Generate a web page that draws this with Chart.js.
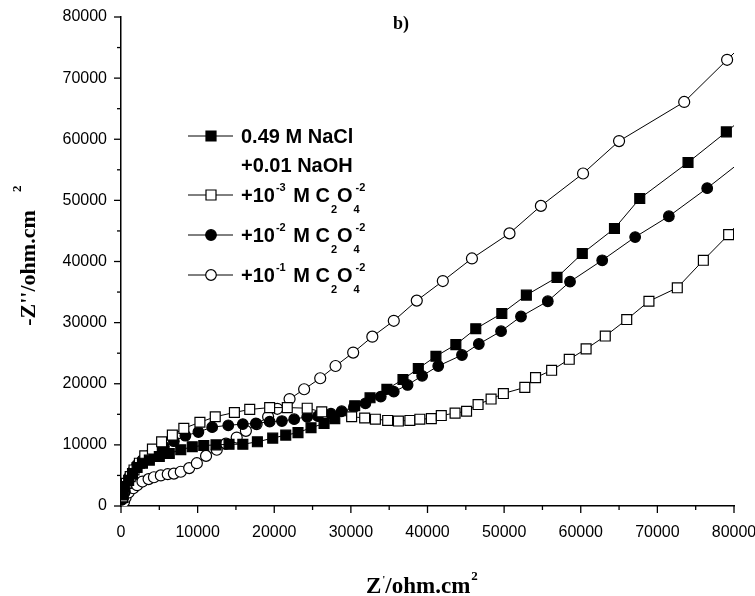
<!DOCTYPE html>
<html lang="en">
<head>
<meta charset="UTF-8">
<title>Nyquist plot b)</title>
<script src="https://cdn.jsdelivr.net/npm/chart.js"></script>
<style>
  html, body { margin: 0; padding: 0; background: #fff; }
  #wrap { width: 755px; height: 596px; }
</style>
</head>
<body>
<div id="wrap"><canvas id="nyquist"></canvas></div>
<script>
// Z' and -Z'' in ohm.cm2 (values in units of 1000)
const naclRe = [0.3, 0.5, 1.0, 1.5, 2.1, 2.8, 3.7, 5.0, 6.3, 7.8, 9.3, 10.8, 12.4, 14.1, 15.9, 17.8, 19.8, 21.5, 23.1, 24.8, 26.5, 27.9, 30.5, 32.5, 34.7, 36.8, 38.8, 41.1, 43.7, 46.3, 49.7, 52.9, 56.9, 60.2, 64.4, 67.7, 74.0, 79.0, 82.0];
const naclIm = [1.8, 3.2, 4.2, 5.3, 6.3, 7.0, 7.5, 8.1, 8.6, 9.2, 9.7, 9.9, 10.0, 10.1, 10.1, 10.5, 11.1, 11.6, 12.0, 12.8, 13.5, 14.3, 16.4, 17.7, 19.1, 20.7, 22.5, 24.5, 26.4, 29.0, 31.5, 34.5, 37.4, 41.3, 45.4, 50.3, 56.2, 61.2, 64.3];

const ox3Re = [0.2, 0.4, 0.7, 1.2, 1.7, 2.4, 3.1, 4.1, 5.3, 6.7, 8.2, 10.3, 12.3, 14.8, 16.8, 19.4, 21.7, 24.3, 26.2, 30.1, 31.8, 33.2, 34.8, 36.2, 37.7, 39.0, 40.5, 41.8, 43.6, 45.1, 46.6, 48.3, 49.9, 52.7, 54.1, 56.2, 58.5, 60.7, 63.2, 66.0, 68.9, 72.6, 76.0, 79.3, 82.0];
const ox3Im = [1.5, 2.6, 3.7, 4.8, 5.9, 7.0, 8.2, 9.3, 10.5, 11.6, 12.7, 13.7, 14.6, 15.3, 15.8, 16.1, 16.1, 16.0, 15.4, 14.6, 14.4, 14.2, 14.0, 13.9, 14.0, 14.2, 14.3, 14.8, 15.2, 15.5, 16.6, 17.5, 18.4, 19.4, 21.0, 22.2, 24.0, 25.7, 27.8, 30.5, 33.5, 35.7, 40.2, 44.4, 48.5];

const ox2Re = [0.1, 0.5, 0.7, 1.1, 1.6, 2.1, 2.8, 3.6, 4.5, 5.6, 6.9, 8.4, 10.1, 11.9, 14.0, 15.9, 17.6, 19.4, 21.0, 22.6, 24.3, 25.7, 27.4, 28.8, 30.4, 31.9, 33.9, 35.6, 37.4, 39.3, 41.4, 44.5, 46.7, 49.6, 52.2, 55.7, 58.6, 62.8, 67.1, 71.5, 76.5, 82.0];
const ox2Im = [1.0, 2.3, 3.6, 4.8, 5.8, 6.7, 7.5, 8.2, 8.9, 9.7, 10.6, 11.5, 12.1, 12.9, 13.2, 13.4, 13.5, 13.8, 13.9, 14.2, 14.6, 14.7, 15.1, 15.5, 16.2, 16.8, 17.9, 18.7, 19.8, 21.3, 22.9, 24.7, 26.5, 28.6, 31.0, 33.5, 36.7, 40.2, 44.0, 47.4, 52.0, 57.4];

const ox1Re = [0.4, 0.6, 1.0, 1.6, 2.1, 2.8, 3.6, 4.3, 5.2, 6.1, 6.9, 7.8, 8.9, 9.9, 11.1, 12.5, 13.7, 15.1, 16.3, 17.7, 19.2, 20.4, 22.0, 23.9, 26.0, 28.0, 30.3, 32.8, 35.6, 38.6, 42.0, 45.8, 50.7, 54.8, 60.3, 65.0, 73.5, 79.1, 84.0];
const ox1Im = [0.7, 1.4, 2.2, 2.9, 3.4, 4.0, 4.4, 4.7, 5.0, 5.2, 5.3, 5.6, 6.2, 7.0, 8.2, 9.2, 10.2, 11.2, 12.3, 13.4, 14.6, 15.9, 17.5, 19.1, 20.9, 22.9, 25.1, 27.7, 30.3, 33.6, 36.8, 40.5, 44.6, 49.1, 54.4, 59.7, 66.1, 73.0, 79.0];

const axisTicks = [0, 10000, 20000, 30000, 40000, 50000, 60000, 70000, 80000];

// legend rows: text pieces, sup/sub handled by the painter below
const legendRows = [
  { style: 'rect', filled: true, parts: [['0.49 M NaCl']] },
  { style: null, parts: [['+0.01 NaOH']] },
  { style: 'rect', filled: false, parts: [['+10'], ['-3', 'sup'], [' M C'], ['2', 'sub'], ['O'], ['4', 'sub'], ['-2', 'supback']] },
  { style: 'circle', filled: true, parts: [['+10'], ['-2', 'sup'], [' M C'], ['2', 'sub'], ['O'], ['4', 'sub'], ['-2', 'supback']] },
  { style: 'circle', filled: false, parts: [['+10'], ['-1', 'sup'], [' M C'], ['2', 'sub'], ['O'], ['4', 'sub'], ['-2', 'supback']] }
];
const legendBaselines = [143, 172, 202, 242, 282];

const SANS = "'Liberation Sans', Arial, sans-serif";
const SERIF = "'Liberation Serif', 'Times New Roman', serif";

function toPoints(re, im) {
  return re.map((x, i) => ({ x: x * 1000, y: im[i] * 1000 }));
}

function series(label, re, im, style, filled, r) {
  return {
    label: label,
    data: toPoints(re, im),
    borderColor: '#000',
    borderWidth: 1,
    pointStyle: style,
    pointRadius: r,
    pointBorderWidth: 1.2,
    pointBorderColor: '#000',
    pointBackgroundColor: filled ? '#000' : '#fff',
    showLine: true,
    tension: 0
  };
}

// outward major/minor ticks, titles and the legend
const decor = {
  id: 'decor',
  afterDraw(chart) {
    const ctx = chart.ctx;
    const xs = chart.scales.x, ys = chart.scales.y;
    const area = chart.chartArea;
    ctx.save();
    ctx.strokeStyle = '#000';
    ctx.lineWidth = 1.3;
    for (let v = 0; v <= 80000; v += 5000) {
      const major = v % 10000 === 0;
      const len = major ? 7 : 4;
      const px = xs.getPixelForValue(v);
      ctx.beginPath();
      ctx.moveTo(px, area.bottom);
      ctx.lineTo(px, area.bottom + len);
      ctx.stroke();
      const py = ys.getPixelForValue(v);
      ctx.beginPath();
      ctx.moveTo(area.left, py);
      ctx.lineTo(area.left - len, py);
      ctx.stroke();
    }

    ctx.fillStyle = '#000';
    ctx.textBaseline = 'alphabetic';

    // panel label
    ctx.font = 'bold 18px ' + SERIF;
    ctx.textAlign = 'center';
    ctx.fillText('b)', 401, 29);

    // x title
    ctx.textAlign = 'left';
    ctx.font = 'bold 23px ' + SERIF;
    ctx.fillText('Z', 366, 593);
    let xx = 366 + ctx.measureText('Z').width;
    ctx.font = 'bold 11px ' + SERIF;
    ctx.fillText("'", xx + 1, 583);
    xx += 4;
    ctx.font = 'bold 23px ' + SERIF;
    ctx.fillText('/ohm.cm', xx, 593);
    xx += ctx.measureText('/ohm.cm').width;
    ctx.font = 'bold 13px ' + SERIF;
    ctx.fillText('2', xx + 1, 580);

    // y title
    ctx.save();
    ctx.translate(35, 268);
    ctx.rotate(-Math.PI / 2);
    ctx.font = 'bold 22px ' + SERIF;
    ctx.textAlign = 'center';
    ctx.fillText("-Z''/ohm.cm", 0, 0);
    ctx.textAlign = 'left';
    ctx.font = 'bold 13px ' + SERIF;
    ctx.fillText('2', 76, -14);
    ctx.restore();

    // legend
    legendRows.forEach((row, i) => {
      const base = legendBaselines[i];
      const my = base - 7;
      if (row.style) {
        ctx.lineWidth = 1;
        ctx.beginPath();
        ctx.moveTo(188, my);
        ctx.lineTo(233, my);
        ctx.stroke();
        ctx.beginPath();
        if (row.style === 'rect') {
          ctx.rect(206, my - 5, 10, 10);
        } else {
          ctx.arc(211, my, 5.3, 0, Math.PI * 2);
        }
        ctx.fillStyle = row.filled ? '#000' : '#fff';
        ctx.fill();
        ctx.lineWidth = 1.2;
        ctx.stroke();
        ctx.fillStyle = '#000';
      }
      let x = 241, subStart = x;
      row.parts.forEach(([t, kind]) => {
        if (!kind) {
          ctx.font = 'bold 20px ' + SANS;
          ctx.fillText(t, x, base);
          x += ctx.measureText(t).width;
        } else {
          ctx.font = 'bold 11px ' + SANS;
          if (kind === 'sub') {
            subStart = x;
            ctx.fillText(t, x + 1, base + 11);
            x += ctx.measureText(t).width + 1;
          } else if (kind === 'sup') {
            ctx.fillText(t, x + 1, base - 11);
            x += ctx.measureText(t).width + 3;
          } else {
            ctx.fillText(t, subStart + 3, base - 11);
          }
        }
      });
    });
    ctx.restore();
  }
};

new Chart(document.getElementById('nyquist'), {
  type: 'scatter',
  data: {
    datasets: [
      series('0.49 M NaCl +0.01 NaOH', naclRe, naclIm, 'rect', true, 7),
      series('+10-3 M C2O4-2', ox3Re, ox3Im, 'rect', false, 7),
      series('+10-2 M C2O4-2', ox2Re, ox2Im, 'circle', true, 5.3),
      series('+10-1 M C2O4-2', ox1Re, ox1Im, 'circle', false, 5.5)
    ]
  },
  options: {
    responsive: true,
    maintainAspectRatio: false,
    animation: false,
    events: [],
    layout: { padding: { top: 17, right: 21, left: 0, bottom: 0 } },
    plugins: {
      legend: { display: false },
      tooltip: { enabled: false }
    },
    scales: {
      x: {
        type: 'linear',
        min: 0,
        max: 80000,
        afterFit(scale) {
          scale.height = 90;
          scale.paddingLeft = 0;
          scale.paddingRight = 0;
        },
        afterBuildTicks(scale) { scale.ticks = axisTicks.map(v => ({ value: v })); },
        grid: { display: false, drawTicks: false },
        border: { display: true, color: '#000', width: 1.5 },
        ticks: {
          padding: 17,
          color: '#000',
          font: { family: SANS, size: 16 },
          maxRotation: 0,
          callback: v => String(v)
        }
      },
      y: {
        type: 'linear',
        min: 0,
        max: 80000,
        afterFit(scale) {
          scale.width = 121;
          scale.paddingTop = 0;
          scale.paddingBottom = 0;
        },
        afterBuildTicks(scale) { scale.ticks = axisTicks.map(v => ({ value: v })); },
        grid: { display: false, drawTicks: false },
        border: { display: true, color: '#000', width: 1.5 },
        ticks: {
          padding: 14,
          color: '#000',
          font: { family: SANS, size: 16 },
          callback: v => String(v)
        }
      }
    }
  },
  plugins: [decor]
});
</script>
</body>
</html>
